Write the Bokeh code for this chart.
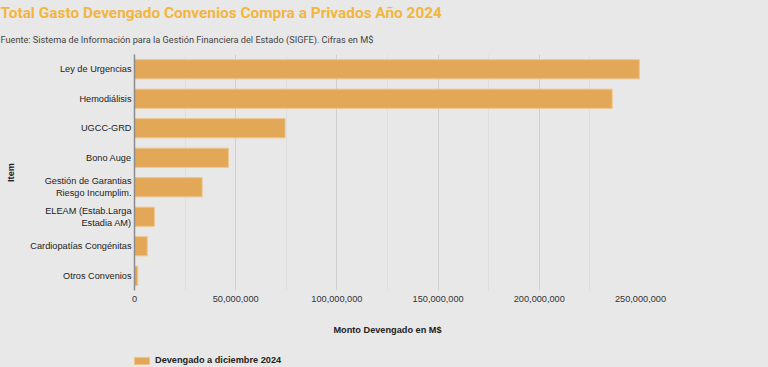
from bokeh.plotting import figure
from bokeh.layouts import column
from bokeh.models import (FactorRange, Range1d, FixedTicker, NumeralTickFormatter,
                          Title, Legend, LegendItem, ColumnDataSource)
from bokeh.embed import file_html
from bokeh.resources import INLINE

categories = ["Ley de Urgencias", "Hemodiálisis", "UGCC-GRD", "Bono Auge",
              "Gestión de Garantias\nRiesgo Incumplim.", "ELEAM (Estab.Larga\nEstadia AM)",
              "Cardiopatías Congénitas", "Otros Convenios"]
values = [249.4e6, 236.0e6, 74.4e6, 46.4e6, 33.4e6, 9.8e6, 6.3e6, 1.6e6]
x_ticks = [0, 50e6, 100e6, 150e6, 200e6, 250e6]
x_minor = [25e6, 75e6, 125e6, 175e6, 225e6]
series_name = "Devengado a diciembre 2024"
title_text = "Total Gasto Devengado Convenios Compra a Privados Año 2024"
subtitle_text = "Fuente: Sistema de Información para la Gestión Financiera del Estado (SIGFE). Cifras en M$"

BG = "#e8e8e8"
BAR = "#e2a757"
BAR_LINE = "#edc48c"
FS = "9.2px"
FONT = "Liberation Sans"
LEFT = 134

src = ColumnDataSource(dict(cat=categories, val=values))

p = figure(width=768, height=340, output_backend="svg", toolbar_location=None,
           y_range=FactorRange(factors=list(reversed(categories)), range_padding=0),
           x_range=Range1d(0, 250e6),
           min_border_left=LEFT, min_border_right=128, min_border_top=54, min_border_bottom=50,
           background_fill_color=BG, border_fill_color=BG, outline_line_color=None)

r = p.hbar(y="cat", right="val", height=0.65, source=src, fill_color=BAR,
           line_color=BAR_LINE, line_width=1)

tit = Title(text=title_text, text_font="Roboto", text_font_size="15.4px",
            text_font_style="bold", text_color="#f2b63e", align="left", offset=-LEFT,
            standoff=0)
sub = Title(text=subtitle_text, text_font="Roboto", text_font_size="9.2px",
            text_font_style="normal", text_color="#444444", align="left", offset=-LEFT,
            standoff=20)
p.title = tit
p.add_layout(sub, "above")

# x axis
xa = p.xaxis[0]
xa.ticker = FixedTicker(ticks=x_ticks, minor_ticks=x_minor)
xa.formatter = NumeralTickFormatter(format="0,0")
xa.axis_line_color = None
xa.major_tick_line_color = None
xa.minor_tick_line_color = None
xa.major_tick_out = 0
xa.major_tick_in = 0
xa.minor_tick_out = 0
xa.major_label_text_font = FONT
xa.major_label_text_font_size = FS
xa.major_label_text_color = "#333333"
xa.major_label_standoff = 5
xa.axis_label = "Monto Devengado en M$"
xa.axis_label_text_font = FONT
xa.axis_label_text_font_size = FS
xa.axis_label_text_font_style = "bold"
xa.axis_label_text_color = "#222222"
xa.axis_label_standoff = 20

ya = p.yaxis[0]
ya.axis_line_color = "#8c8c8c"
ya.axis_line_width = 1.5
ya.major_tick_line_color = None
ya.minor_tick_line_color = None
ya.major_tick_out = 0
ya.major_tick_in = 0
ya.major_label_text_font = FONT
ya.major_label_text_font_size = FS
ya.major_label_text_color = "#222222"
ya.major_label_standoff = 3
ya.axis_label = "Item"
ya.axis_label_text_font = FONT
ya.axis_label_text_font_size = FS
ya.axis_label_text_font_style = "bold"
ya.axis_label_text_color = "#222222"
ya.axis_label_standoff = 11

p.ygrid.grid_line_color = None
p.xgrid.grid_line_color = "#cfcfcf"
p.xgrid.minor_grid_line_color = "#dedede"

# legend strip below the chart (hidden copy of the series supplies the swatch)
p2 = figure(width=768, height=27, output_backend="svg", toolbar_location=None,
            x_range=Range1d(0, 250e6), y_range=FactorRange(factors=list(reversed(categories))),
            x_axis_type=None, y_axis_type=None,
            min_border_left=0, min_border_right=0, min_border_top=0, min_border_bottom=0,
            background_fill_color=BG, border_fill_color=BG, outline_line_color=None)
p2.xgrid.grid_line_color = None
p2.ygrid.grid_line_color = None
r2 = p2.hbar(y="cat", right="val", height=0.65, source=src, fill_color=BAR,
             line_color=BAR_LINE, line_width=1)
r2.visible = False
legend = Legend(items=[LegendItem(label=series_name, renderers=[r2])],
                orientation="horizontal", location=(-2, 2),
                background_fill_alpha=0, border_line_color=None,
                label_text_font=FONT, label_text_font_size=FS,
                label_text_font_style="bold", label_text_color="#222222",
                glyph_width=19, glyph_height=9, label_height=9,
                padding=0, margin=0, spacing=0, label_standoff=4)
p2.add_layout(legend)

layout = column(p, p2, spacing=0)

html = file_html(layout, INLINE)
html = html.replace("<head>", "<head><style>html, body { background: #e8e8e8; overflow: hidden; }</style>", 1)
open("out.html", "w").write(html)
